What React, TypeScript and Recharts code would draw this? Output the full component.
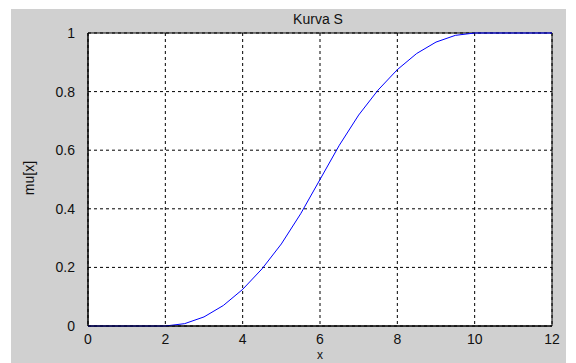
import React from "react";
import {
  LineChart,
  Line,
  XAxis,
  YAxis,
  CartesianGrid,
  ReferenceArea,
} from "recharts";

const xValues = [0, 0.5, 1, 1.5, 2, 2.5, 3, 3.5, 4, 4.5, 5, 5.5, 6, 6.5, 7, 7.5, 8, 8.5, 9, 9.5, 10, 10.5, 11, 11.5, 12];
const muValues = [0, 0, 0, 0, 0, 0.008, 0.031, 0.07, 0.125, 0.195, 0.28, 0.383, 0.5, 0.617, 0.72, 0.805, 0.875, 0.93, 0.969, 0.992, 1, 1, 1, 1, 1];
const xTicks = [0, 2, 4, 6, 8, 10, 12];
const yTicks = [0, 0.2, 0.4, 0.6, 0.8, 1];

const data = xValues.map((x, i) => ({ x, mu: muValues[i] }));

const font = "'Liberation Sans', Arial, sans-serif";
const tickStyle = { fontSize: 14, fill: "#111", fontFamily: font };

export default function App() {
  return (
    <div style={{ position: "absolute", left: 0, top: 0, width: 576, height: 363, background: "#fff" }}>
      <div style={{ position: "absolute", left: 11, top: 9 }}>
        <LineChart
          width={555}
          height={354}
          data={data}
          margin={{ top: 24, right: 14, left: 0, bottom: 0 }}
          style={{ background: "#d0d0d0" }}
        >
          <CartesianGrid
            fill="#fff"
            stroke="#000"
            strokeDasharray="3 3"
            horizontalValues={yTicks}
            verticalValues={xTicks}
          />
          <XAxis
            dataKey="x"
            type="number"
            domain={[0, 12]}
            ticks={xTicks}
            tick={tickStyle}
            tickLine={false}
            axisLine={{ stroke: "#000" }}
            tickMargin={2}
            height={37}
          />
          <YAxis
            type="number"
            domain={[0, 1]}
            ticks={yTicks}
            tick={tickStyle}
            tickLine={false}
            axisLine={{ stroke: "#000" }}
            tickMargin={7}
            width={77}
          />
          <ReferenceArea x1={0} x2={12} y1={0} y2={1} stroke="#000" strokeWidth={1} fill="none" fillOpacity={0} />
          <Line
            type="linear"
            dataKey="mu"
            stroke="#0000ff"
            strokeWidth={1}
            dot={false}
            isAnimationActive={false}
          />
          <text x={307} y={11} textAnchor="middle" dominantBaseline="middle" fontSize={14} fontFamily={font} fill="#111">
            Kurva S
          </text>
          <text x={309} y={350} textAnchor="middle" fontSize={12} fontFamily={font} fill="#111">
            x
          </text>
          <text
            x={19}
            y={169}
            textAnchor="middle"
            dominantBaseline="middle"
            fontSize={14}
            fontFamily={font}
            fill="#111"
            transform="rotate(-90 19 169)"
          >
            mu[x]
          </text>
        </LineChart>
      </div>
    </div>
  );
}
